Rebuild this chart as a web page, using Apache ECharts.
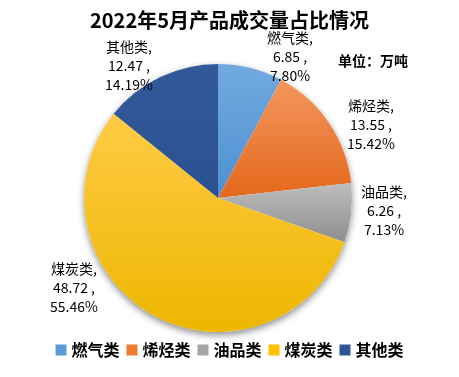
<!DOCTYPE html>
<html>
<head>
<meta charset="utf-8">
<script src="https://cdn.jsdelivr.net/npm/echarts@6/dist/echarts.min.js"></script>
<style>
  html, body { margin: 0; padding: 0; background: #fff; }
  #main { width: 459px; height: 377px; }
</style>
</head>
<body>
<div id="main"></div>
<script>
var categories = ["燃气类", "烯烃类", "油品类", "煤炭类", "其他类"];
var values = [6.85, 13.55, 6.26, 48.72, 12.47];
// gradient top / bottom colours per slice
var topColors = ["#72AADF", "#F3965E", "#BDBDBD", "#FFCB45", "#33599B"];
var bottomColors = ["#4E8FD2", "#E4681C", "#8E8E8E", "#EDB600", "#2B5193"];
var legendColors = ["#5B9BD5", "#ED7D31", "#A5A5A5", "#FFC000", "#2F5597"];
// label centres (Excel "best fit" placement)
var labelPos = [[290, 57], [371, 125], [384, 211], [74, 288], [129, 66]];

var chart = echarts.init(document.getElementById("main"), null, { renderer: "canvas" });

var pieData = categories.map(function (name, i) {
  return {
    name: name,
    value: values[i],
    itemStyle: {
      color: new echarts.graphic.LinearGradient(0, 0, 0, 1, [
        { offset: 0, color: topColors[i] },
        { offset: 1, color: bottomColors[i] }
      ])
    }
  };
});

var option = {
  backgroundColor: "#fff",
  animation: false,
  title: [
    {
      text: "2022年5月产品成交量占比情况",
      left: "center",
      top: 5,
      textStyle: {
        fontFamily: "Noto Sans CJK SC",
        fontSize: 20,
        fontWeight: "bold",
        color: "#000"
      }
    },
    {
      text: "单位：万吨",
      left: 333,
      top: 49,
      textStyle: {
        fontFamily: "Noto Sans CJK SC",
        fontSize: 14,
        fontWeight: "bold",
        color: "#000"
      }
    }
  ],
  legend: {
    data: categories.map(function (name, i) {
      return { name: name, itemStyle: { color: legendColors[i] } };
    }),
    bottom: 14,
    left: "center",
    icon: "rect",
    itemWidth: 11,
    itemHeight: 11,
    itemGap: 7,
    textStyle: {
      fontFamily: "Noto Sans CJK SC",
      fontSize: 16,
      fontWeight: "bold",
      color: "#000"
    }
  },
  series: [
    {
      // shadow under the pie
      type: "pie",
      silent: true,
      center: [218, 198],
      radius: 134,
      data: [{ name: "", value: 1 }],
      label: { show: false },
      labelLine: { show: false },
      itemStyle: {
        color: "#fff",
        shadowBlur: 7,
        shadowOffsetY: 3,
        shadowColor: "rgba(0,0,0,0.45)"
      },
      z: 1
    },
    {
      type: "pie",
      center: [218, 198],
      radius: 134,
      startAngle: 90,
      clockwise: true,
      data: pieData,
      z: 2,
      label: {
        show: true,
        position: "outside",
        formatter: function (p) {
          return p.name + ",\n" + p.value.toFixed(2) + " ,\n" + p.percent.toFixed(2) + "%";
        },
        fontFamily: "Noto Sans CJK SC",
        fontSize: 14,
        lineHeight: 19,
        color: "#000",
        align: "center"
      },
      labelLine: { show: false },
      labelLayout: function (params) {
        var p = labelPos[params.dataIndex];
        return {
          x: p[0],
          y: p[1],
          align: "center",
          verticalAlign: "middle"
        };
      }
    }
  ]
};

chart.setOption(option);
</script>
</body>
</html>
